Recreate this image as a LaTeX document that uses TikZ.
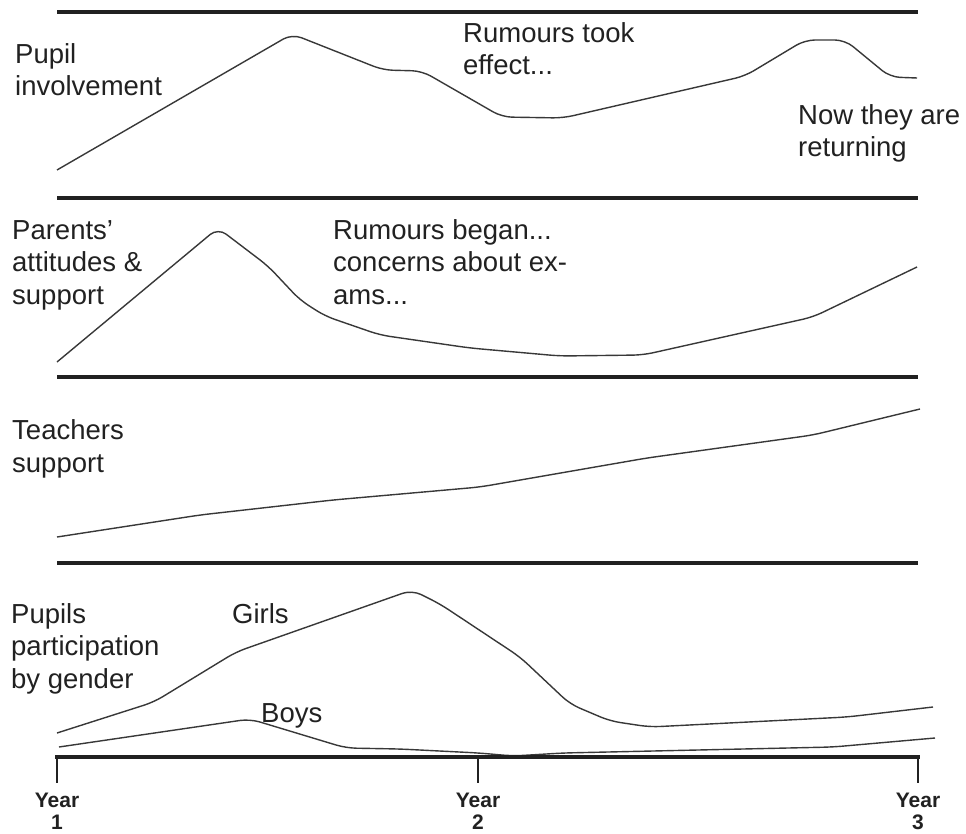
\documentclass[tikz,border=0pt]{standalone}
\usepackage{fontspec}
\setmainfont{Liberation Sans}
\usepackage{tikz}
\definecolor{ink}{gray}{0.13}
\definecolor{pen}{gray}{0.22}

\begin{document}
\begin{tikzpicture}[x=1pt,y=-1pt,
  rule/.style={ink,line width=3.5pt},
  tick/.style={ink,line width=2.5pt},
  curve/.style={pen,line width=1.4pt,line join=round,rounded corners=10pt},
  lbl/.style={ink,anchor=base west,align=left,inner sep=0pt,font=\fontsize{27.5}{32.5}\selectfont},
  yr/.style={ink,anchor=base,align=center,inner sep=0pt,font=\fontsize{21}{22}\selectfont\bfseries}]
\useasboundingbox (0,0) rectangle (966,834);

\draw[rule] (57,12) -- (918,12);
\draw[rule] (57,198) -- (918,198);
\draw[rule] (57,377) -- (918,377);
\draw[rule] (57,563) -- (918,563);

\node[lbl] (pupil) at (15,96) {Pupil\\involvement};
\node[lbl] (rumtook) at (463,75) {Rumours took\\effect...};
\node[lbl] (return) at (798,157) {Now they are\\returning};
\draw[curve] (57,170) -- (292,34) -- (383,70) -- (422,71) -- (502,117) -- (563,118) -- (745,76) -- (805,40) -- (845,40) -- (890,77) -- (917,78);

\node[lbl] (parents) at (12,304) {Parents'\\attitudes \&\\support};
\node[lbl] (rumbegan) at (333,304) {Rumours began...\\concerns about ex-\\ams...};
\draw[curve] (57,362) -- (218,228) -- (268,266) -- (300,300) -- (325,316) -- (380,335) -- (470,348) -- (560,356) -- (643,355) -- (813,317) -- (917,267);

\node[lbl] (teachers) at (12,472) {Teachers\\support};
\draw[curve] (57,537) -- (200,515) -- (333,500) -- (480,487) -- (647,458) -- (813,435) -- (920,409);

\node[lbl] (gender) at (11,688) {Pupils\\participation\\by gender};
\node[lbl] (girls) at (232,623) {Girls};
\node[lbl] (boys) at (261,722) {Boys};
\draw[curve] (57,733) -- (154,702) -- (236,652) -- (412,590) -- (440,604) -- (520,657) -- (570,704) -- (610,721) -- (650,727) -- (847,717) -- (933,707);
\draw[curve] (59,747) -- (250,719) -- (346,748) -- (400,749) -- (479,753) -- (513,756) -- (563,753) -- (833,747) -- (935,738);

\coordinate (a1) at (57,757);
\coordinate (a2) at (478,757);
\coordinate (a3) at (918,757);
\coordinate (t1) at (57,783);
\coordinate (t2) at (478,783);
\coordinate (t3) at (918,783);
\draw[rule,line cap=rect] (a1) -- (a3);
\draw[tick] (a1) -- (t1);
\draw[tick] (a2) -- (t2);
\draw[tick] (a3) -- (t3);

\node[yr] (year1) at (57,829) {Year\\1};
\node[yr] (year2) at (478,829) {Year\\2};
\node[yr] (year3) at (918,829) {Year\\3};
\end{tikzpicture}
\end{document}
